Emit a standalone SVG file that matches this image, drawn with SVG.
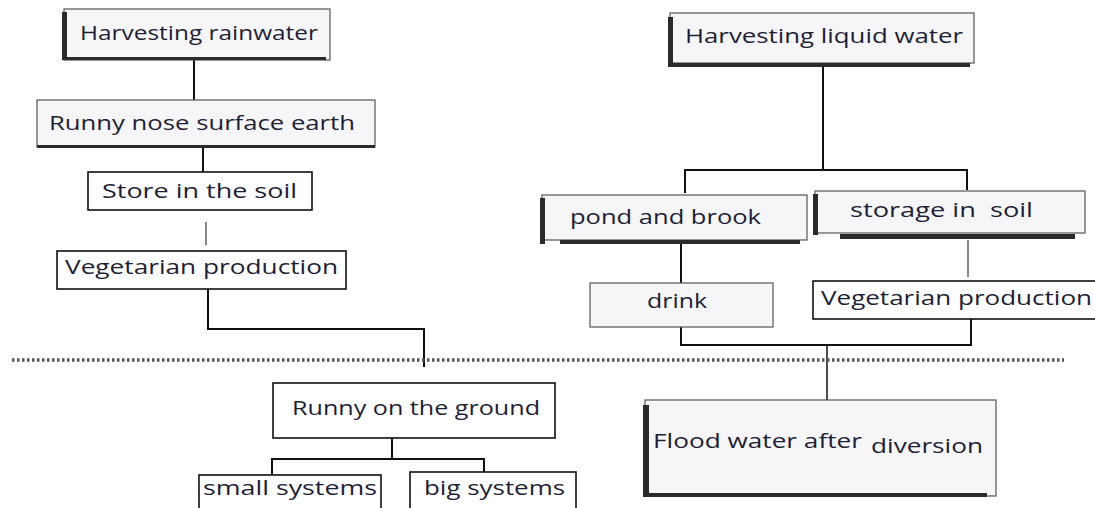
<svg xmlns="http://www.w3.org/2000/svg" width="1095" height="508" viewBox="0 0 1095 508">
  <style>
    .box { fill: #ffffff; stroke: #111111; stroke-width: 1.6; }
    .sbox { fill: #f6f6f9; stroke: #555555; stroke-width: 1.2; }
    .shadow { fill: #2b2b2b; }
    .t { font-family: "Open Sans", "Noto Sans", "Liberation Sans", sans-serif; font-size: 20px; fill: #1e1e36; white-space: pre; }
    .conn { stroke: #111111; stroke-width: 2; fill: none; }
    .faint { stroke: #888888; stroke-width: 2; fill: none; }
    .dots { stroke: #555555; stroke-width: 3.5; stroke-dasharray: 2.5 2.5; fill: none; }
  </style>

  <g id="connectors">
    <path class="conn" d="M194 60 V100"/>
    <path class="conn" d="M203 148 V172"/>
    <path class="faint" d="M206 222 V245"/>
    <path class="conn" d="M208 289 V329 H424 V367"/>
    <path class="conn" d="M823 67 V170"/>
    <path class="conn" d="M685 193 V170 H967 V190"/>
    <path class="conn" d="M681 244 V283"/>
    <path class="faint" d="M968 240 V277"/>
    <path class="conn" d="M681 327 V345 H971 V319"/>
    <path class="conn" d="M827 345 V400" style="stroke-width:1.5"/>
    <path class="conn" d="M392 438 V459"/>
    <path class="conn" d="M272 475 V459 H484 V472"/>
  </g>

  <g id="divider">
    <line class="dots" x1="12" y1="360" x2="1064" y2="360"/>
  </g>

  <g id="harvesting-rainwater">
    <rect class="sbox" x="64" y="9" width="266" height="51"/>
    <rect class="shadow" x="62" y="12" width="5" height="48"/>
    <rect class="shadow" x="62" y="57" width="264" height="3"/>
    <text class="t" x="80" y="40" textLength="238" lengthAdjust="spacingAndGlyphs">Harvesting rainwater</text>
  </g>

  <g id="runny-nose">
    <rect class="sbox" x="37" y="100" width="338" height="47"/>
    <rect class="shadow" x="37" y="145" width="338" height="3"/>
    <text class="t" x="49" y="130" textLength="306" lengthAdjust="spacingAndGlyphs">Runny nose surface earth</text>
  </g>

  <g id="store-soil">
    <rect class="box" x="88" y="172" width="224" height="38"/>
    <text class="t" x="102" y="198" textLength="195" lengthAdjust="spacingAndGlyphs">Store in the soil</text>
  </g>

  <g id="veg-left">
    <rect class="box" x="57" y="251" width="289" height="38"/>
    <text class="t" x="65" y="274" textLength="273" lengthAdjust="spacingAndGlyphs">Vegetarian production</text>
  </g>

  <g id="harvesting-liquid">
    <rect class="sbox" x="670" y="13" width="304" height="50"/>
    <rect class="shadow" x="668" y="17" width="5" height="50"/>
    <rect class="shadow" x="668" y="63" width="302" height="4"/>
    <text class="t" x="685" y="43" textLength="278" lengthAdjust="spacingAndGlyphs">Harvesting liquid water</text>
  </g>

  <g id="pond-brook">
    <rect class="sbox" x="542" y="195" width="265" height="45"/>
    <rect class="shadow" x="540" y="198" width="5" height="46"/>
    <rect class="shadow" x="560" y="240" width="240" height="4"/>
    <text class="t" x="570" y="224" textLength="191" lengthAdjust="spacingAndGlyphs">pond and brook</text>
  </g>

  <g id="storage-soil">
    <rect class="sbox" x="815" y="191" width="270" height="42"/>
    <rect class="shadow" x="813" y="194" width="5" height="41"/>
    <rect class="shadow" x="840" y="234" width="235" height="5"/>
    <text class="t" x="850" y="217" textLength="183" lengthAdjust="spacingAndGlyphs">storage in  soil</text>
  </g>

  <g id="drink">
    <rect class="sbox" x="590" y="283" width="183" height="44"/>
    <text class="t" x="647" y="308" textLength="60" lengthAdjust="spacingAndGlyphs">drink</text>
  </g>

  <g id="veg-right">
    <rect class="box" x="813" y="281" width="290" height="38"/>
    <text class="t" x="821" y="305" textLength="271" lengthAdjust="spacingAndGlyphs">Vegetarian production</text>
  </g>

  <g id="runny-ground">
    <rect class="box" x="273" y="383" width="282" height="55"/>
    <text class="t" x="292" y="415" textLength="248" lengthAdjust="spacingAndGlyphs">Runny on the ground</text>
  </g>

  <g id="small-systems">
    <rect class="box" x="199" y="475" width="182" height="45"/>
    <text class="t" x="203" y="495" textLength="174" lengthAdjust="spacingAndGlyphs">small systems</text>
  </g>

  <g id="big-systems">
    <rect class="box" x="410" y="472" width="166" height="48"/>
    <text class="t" x="424" y="495" textLength="141" lengthAdjust="spacingAndGlyphs">big systems</text>
  </g>

  <g id="flood-water">
    <rect class="sbox" x="645" y="400" width="351" height="96"/>
    <rect class="shadow" x="643" y="405" width="6" height="92"/>
    <rect class="shadow" x="643" y="493" width="344" height="4"/>
    <text class="t" x="653" y="448"><tspan textLength="209" lengthAdjust="spacingAndGlyphs">Flood water after</tspan><tspan x="871" y="453" textLength="112" lengthAdjust="spacingAndGlyphs">diversion</tspan></text>
  </g>
</svg>
